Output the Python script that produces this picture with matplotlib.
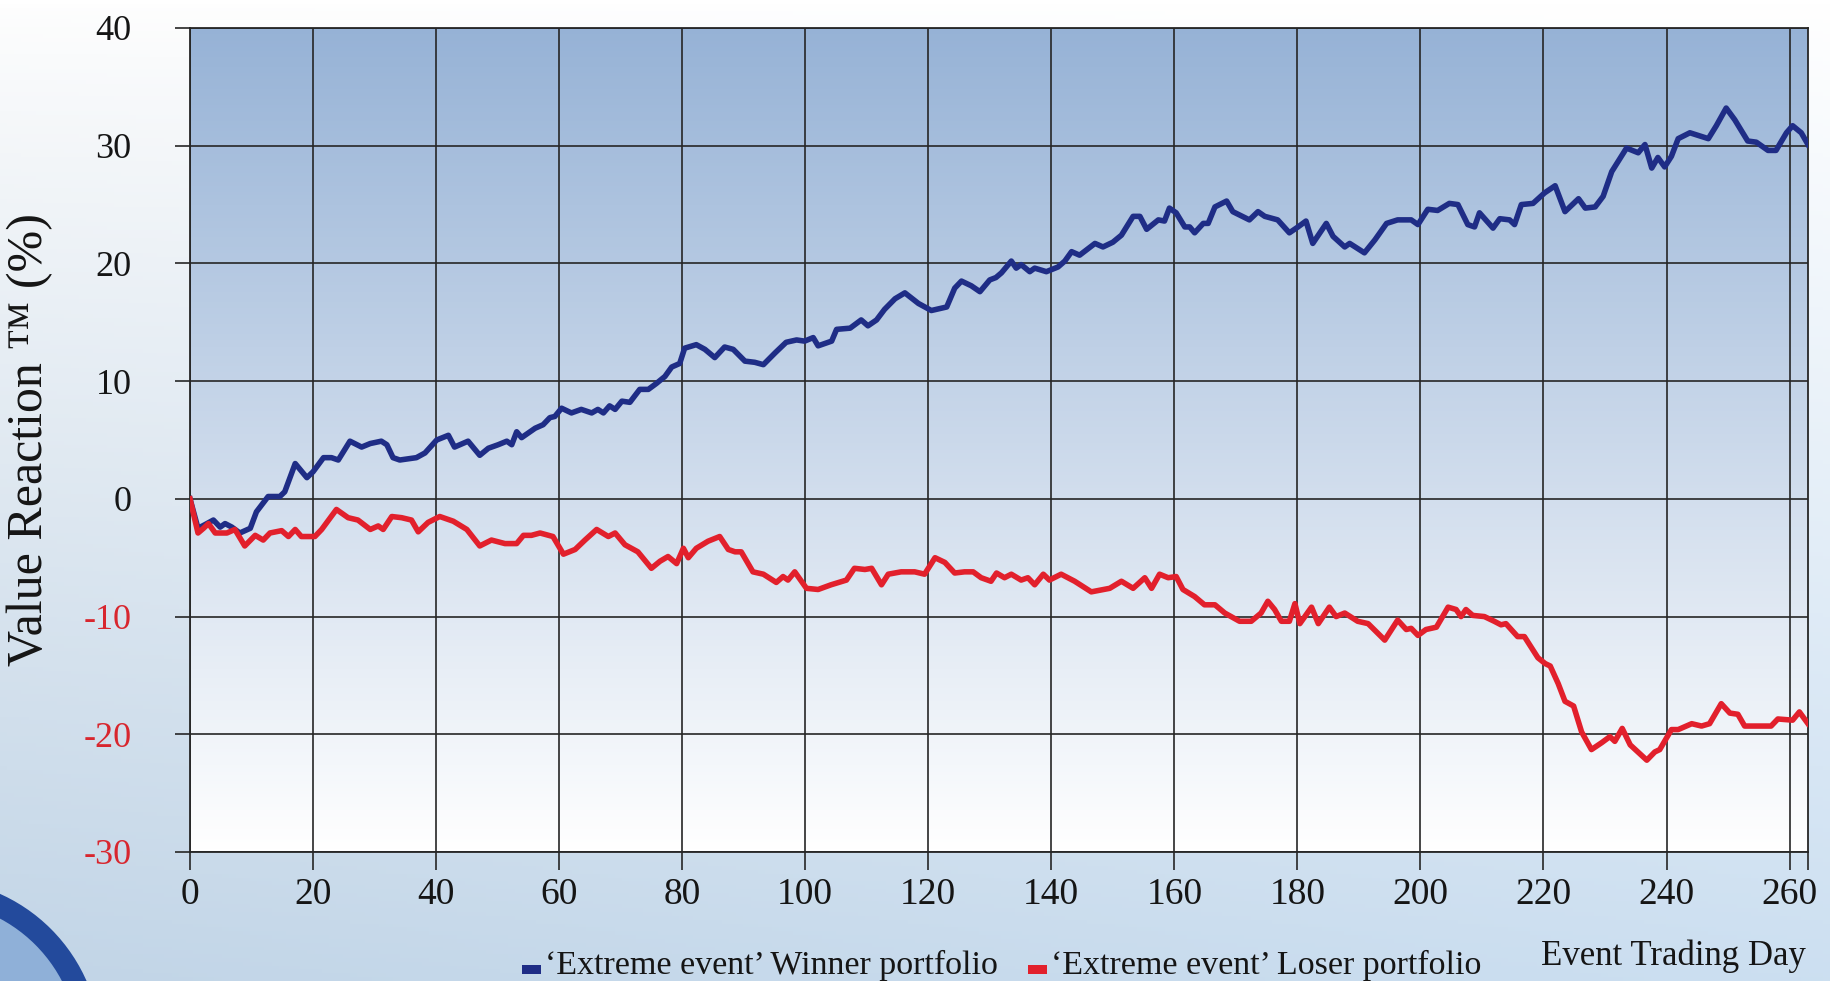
import numpy as np
import matplotlib
matplotlib.use("Agg")
import matplotlib.pyplot as plt
from matplotlib.patches import Rectangle, Ellipse

plt.rcParams['font.family'] = ['Liberation Serif', 'DejaVu Serif']

# values (event day, value reaction %)
winner_days = [0, 1.3, 2.4, 3.8, 4.9, 5.7, 6.8, 8.1, 9.8, 10.8, 12.7, 14.6, 15.4, 17.1, 19.0, 20.0,
               21.7, 23.0, 24.1, 26.0, 27.9, 29.3, 31.1, 32.0, 33.0, 34.1, 36.8, 38.2, 40.1, 42.0,
               43.0, 45.2, 47.1, 48.5, 50.1, 51.5, 52.3, 53.1, 53.9, 56.1, 57.4, 58.5, 59.3, 60.4,
               62.0, 63.6, 65.3, 66.3, 67.2, 68.2, 69.1, 70.2, 71.5, 73.1, 74.5, 75.8, 77.2, 78.3,
               79.6, 80.4, 82.3, 83.7, 85.3, 86.9, 88.3, 90.2, 91.8, 93.2, 95.1, 96.9, 98.6, 99.9,
               101.3, 102.1, 104.3, 105.1, 107.3, 109.1, 110.2, 111.6, 112.9, 114.6, 116.2, 118.4,
               120.5, 123.0, 124.3, 125.4, 127.0, 128.4, 130.0, 131.0, 131.9, 133.5, 134.3, 135.1,
               136.5, 137.3, 139.2, 141.1, 142.2, 143.3, 144.6, 147.1, 148.4, 150.0, 151.4, 153.3,
               154.4, 155.5, 157.4, 158.4, 159.2, 160.3, 161.7, 162.5, 163.3, 164.7, 165.5, 166.6,
               168.5, 169.5, 172.2, 173.6, 174.7, 176.8, 178.7, 180.1, 181.4, 182.5, 184.7, 185.8,
               187.7, 188.5, 190.9, 192.6, 194.5, 196.3, 198.5, 199.6, 201.2, 202.8, 204.7, 206.1,
               207.7, 208.8, 209.6, 211.8, 212.9, 214.5, 215.3, 216.4, 218.3, 220.2, 221.9, 223.5,
               225.7, 226.8, 228.4, 229.7, 231.1, 233.5, 235.4, 236.5, 237.6, 238.6, 239.7, 240.8,
               241.9, 243.8, 246.8, 248.1, 249.7, 251.1, 253.2, 254.6, 256.5, 257.8, 259.5, 260.5,
               261.9, 263.0]
winner_vals = [0, -2.5, -2.2, -1.8, -2.4, -2.1, -2.4, -2.9, -2.5, -1.1, 0.2, 0.2, 0.6, 3.0, 1.8, 2.3,
               3.5, 3.5, 3.3, 4.9, 4.4, 4.7, 4.9, 4.6, 3.5, 3.3, 3.5, 3.9, 5.0, 5.4,
               4.4, 4.9, 3.7, 4.3, 4.6, 4.9, 4.6, 5.7, 5.2, 6.0, 6.3, 6.9, 7.0, 7.7,
               7.3, 7.6, 7.3, 7.6, 7.3, 7.9, 7.6, 8.3, 8.2, 9.3, 9.3, 9.8, 10.4, 11.2,
               11.5, 12.8, 13.1, 12.7, 12.0, 12.9, 12.7, 11.7, 11.6, 11.4, 12.4, 13.3, 13.5, 13.4,
               13.7, 13.0, 13.4, 14.4, 14.5, 15.2, 14.7, 15.2, 16.1, 17.0, 17.5, 16.6,
               16.0, 16.3, 17.9, 18.5, 18.1, 17.6, 18.6, 18.8, 19.2, 20.2, 19.6, 19.9,
               19.3, 19.6, 19.3, 19.7, 20.2, 21.0, 20.7, 21.7, 21.4, 21.8, 22.4, 24.0,
               24.0, 22.9, 23.7, 23.6, 24.7, 24.3, 23.1, 23.1, 22.6, 23.4, 23.4, 24.8,
               25.3, 24.4, 23.7, 24.4, 24.0, 23.7, 22.6, 23.1, 23.6, 21.7, 23.4, 22.3,
               21.4, 21.7, 20.9, 22.0, 23.4, 23.7, 23.7, 23.3, 24.6, 24.5, 25.1, 25.0,
               23.3, 23.1, 24.3, 23.0, 23.8, 23.7, 23.3, 25.0, 25.1, 26.0, 26.6, 24.4,
               25.5, 24.7, 24.8, 25.7, 27.8, 29.8, 29.4, 30.1, 28.1, 29.0, 28.2, 29.1,
               30.6, 31.1, 30.6, 31.7, 33.2, 32.2, 30.4, 30.3, 29.6, 29.6, 31.1, 31.7,
               31.1, 30.1]

loser_days = [0, 1.3, 2.2, 3.0, 4.1, 6.0, 7.3, 8.9, 10.6, 11.9, 13.0, 14.9, 16.0, 17.1, 18.1, 20.3,
              21.4, 23.8, 25.7, 27.3, 29.3, 30.6, 31.4, 32.8, 34.4, 36.0, 37.1, 38.7, 40.6, 42.8,
              45.0, 47.1, 49.0, 51.2, 53.1, 54.2, 55.5, 56.9, 59.0, 60.7, 62.6, 64.2, 66.1, 68.0,
              69.1, 70.7, 72.8, 75.0, 76.4, 77.7, 79.1, 80.2, 81.0, 82.3, 84.2, 86.1, 87.5, 88.6,
              89.6, 91.5, 93.2, 95.3, 96.4, 97.2, 98.3, 100.2, 102.1, 104.2, 106.7, 108.0, 109.7,
              110.8, 112.4, 113.5, 115.6, 117.8, 119.4, 121.1, 122.7, 124.3, 125.9, 127.3, 128.6,
              130.2, 131.1, 132.4, 133.5, 135.1, 136.2, 137.3, 138.7, 139.7, 141.6, 143.8, 146.5,
              149.5, 151.4, 153.3, 155.2, 156.3, 157.6, 159.0, 160.3, 161.4, 163.3, 164.9, 166.6,
              168.2, 170.6, 172.5, 174.1, 175.2, 176.3, 177.4, 178.7, 179.6, 180.4, 182.3, 183.4,
              185.2, 186.3, 187.7, 189.8, 191.5, 194.2, 196.3, 197.7, 198.5, 199.6, 200.9, 202.6,
              204.5, 205.8, 206.6, 207.4, 208.5, 210.4, 212.0, 213.1, 213.9, 215.8, 216.9, 218.0,
              219.1, 220.3, 221.1, 222.4, 223.5, 224.9, 226.2, 227.8, 229.5, 230.8, 231.6, 232.8,
              234.1, 236.8, 238.1, 238.9, 240.8, 241.9, 244.1, 245.7, 247.0, 248.9, 250.3, 251.6,
              252.7, 257.0, 258.1, 260.5, 261.6, 263.0]
loser_vals = [0, -2.9, -2.5, -2.1, -2.9, -2.9, -2.6, -4.0, -3.1, -3.5, -2.9, -2.7, -3.2, -2.6, -3.2, -3.2,
              -2.6, -0.9, -1.6, -1.8, -2.6, -2.3, -2.6, -1.5, -1.6, -1.8, -2.8, -2.0, -1.5, -1.9,
              -2.6, -4.0, -3.5, -3.8, -3.8, -3.1, -3.1, -2.9, -3.2, -4.7, -4.3, -3.5, -2.6, -3.2,
              -2.9, -3.9, -4.5, -5.9, -5.3, -4.9, -5.5, -4.2, -5.0, -4.2, -3.6, -3.2, -4.3, -4.5,
              -4.5, -6.2, -6.4, -7.1, -6.6, -6.9, -6.2, -7.6, -7.7, -7.3, -6.9, -5.9, -6.0,
              -5.9, -7.3, -6.4, -6.2, -6.2, -6.4, -5.0, -5.4, -6.3, -6.2, -6.2, -6.7,
              -7.0, -6.3, -6.7, -6.4, -6.9, -6.7, -7.3, -6.4, -6.9, -6.4, -7.0, -7.9,
              -7.6, -7.0, -7.6, -6.7, -7.6, -6.4, -6.7, -6.6, -7.7, -8.3, -9.0, -9.0,
              -9.7, -10.4, -10.4, -9.7, -8.7, -9.4, -10.4, -10.4, -8.9, -10.6, -9.2, -10.6,
              -9.2, -10.0, -9.7, -10.4, -10.6, -12.0, -10.3, -11.1, -11.0, -11.6, -11.1, -10.9,
              -9.2, -9.4, -10.0, -9.4, -9.9, -10.0, -10.4, -10.7, -10.6, -11.7, -11.7, -12.6,
              -13.5, -14.0, -14.2, -15.7, -17.2, -17.6, -19.8, -21.3, -20.7, -20.2, -20.6, -19.5,
              -20.9, -22.2, -21.5, -21.3, -19.6, -19.6, -19.1, -19.3, -19.1, -17.4, -18.2, -18.3,
              -19.3, -19.3, -18.7, -18.8, -18.1, -19.1]

x_ticks = list(range(0, 261, 20))
y_ticks = list(range(-30, 41, 10))

W, H = 1830, 981
fig = plt.figure(figsize=(W / 100, H / 100), dpi=100)

# page background: white at the top fading to light blue at the bottom
bg = fig.add_axes([0, 0, 1, 1], zorder=-10)
bg.axis('off')
top_c = np.array([1.0, 1.0, 1.0])
bot_c = np.array([0.80, 0.875, 0.945])
t = np.linspace(0, 1, 256)[:, None, None]
s = np.linspace(1, 0, 256)[None, :, None]
grad = top_c * (1 - t) + bot_c * t
grad = grad * np.ones((1, 256, 1))
grad = grad - 0.04 * s * np.sqrt(t)
bg.imshow(np.clip(grad, 0, 1), aspect='auto', extent=[0, 1, 0, 1], origin='upper')
bg.set_xlim(0, 1)
bg.set_ylim(0, 1)

# part of the globe logo peeking in at the lower left
r = 160
bg.add_patch(Ellipse((-70 / W, 1 - 1050 / H), 2 * r / W, 2 * r / H, transform=fig.transFigure,
                     facecolor='#8fb0d8', edgecolor='#234a9c', lw=16))
bg.add_patch(Ellipse((-40 / W, 1 - 1060 / H), 150 / W, 150 / H, transform=fig.transFigure,
                     facecolor='#c8daee', edgecolor='none'))

ax = fig.add_axes([190 / W, 1 - 852 / H, (1808 - 190) / W, (852 - 28) / H])
ag = np.linspace(0, 1, 256)[:, None, None]
c_top = np.array([0.59, 0.70, 0.84])
c_bot = np.array([1.0, 1.0, 1.0])
ax_grad = c_top * (1 - ag) + c_bot * ag
ax.imshow(ax_grad, extent=[0, 263, -30, 40], aspect='auto', origin='upper', zorder=0)

ax.plot(winner_days, winner_vals, color='#1f2d86', lw=4, zorder=3, solid_joinstyle='round')
ax.plot(loser_days, loser_vals, color='#e2202c', lw=4, zorder=3, solid_joinstyle='round')

ax.set_xlim(0, 263)
ax.set_ylim(-30, 40)
ax.set_xticks(x_ticks)
ax.set_yticks(y_ticks)
ax.set_xticks([263], minor=True)
ax.grid(True, color='#262626', lw=1.2, zorder=1)
for sp in ax.spines.values():
    sp.set_color('#262626')
    sp.set_linewidth(1.3)

ax.tick_params(axis='y', length=11, width=1.2, color='#262626', pad=31, labelsize=26)
ax.tick_params(axis='x', which='major', length=13, width=1.2, color='#262626', pad=5, labelsize=27)
ax.tick_params(axis='x', which='minor', length=13, width=1.2, color='#262626')
ax.set_yticklabels([str(v) for v in y_ticks])
for lbl, v in zip(ax.get_yticklabels(), y_ticks):
    lbl.set_color('#d8262e' if v < 0 else '#151515')
for lbl in ax.get_xticklabels():
    lbl.set_color('#151515')

fig.text(30 / W, 1 - 440 / H, 'Value Reaction \u2122 (%)', rotation=90,
         ha='center', va='center', fontsize=36, color='#151515')

fig.text(1806 / W, 1 - 965 / H, 'Event Trading Day', ha='right', va='baseline',
         fontsize=25, color='#151515')

# legend
fig.patches.append(Rectangle((522 / W, 1 - 974 / H), 19 / W, 9 / H, transform=fig.transFigure,
                             facecolor='#1f2d86', edgecolor='none'))
fig.text(545 / W, 1 - 974 / H, '\u2018Extreme event\u2019 Winner portfolio', ha='left',
         va='baseline', fontsize=24.5, color='#151515')
fig.patches.append(Rectangle((1028 / W, 1 - 974 / H), 19 / W, 9 / H, transform=fig.transFigure,
                             facecolor='#e2202c', edgecolor='none'))
fig.text(1051 / W, 1 - 974 / H, '\u2018Extreme event\u2019 Loser portfolio', ha='left',
         va='baseline', fontsize=24.5, color='#151515')

fig.savefig('out.png', dpi=100)
